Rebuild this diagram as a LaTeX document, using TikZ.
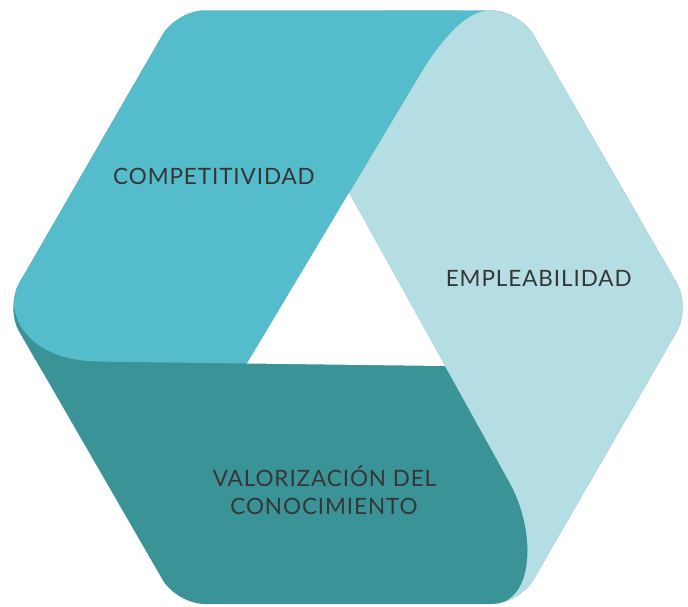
\documentclass[tikz,border=0pt]{standalone}
\usepackage{fontspec}
\setmainfont{Lato}[LetterSpace=4]
\definecolor{cyanrib}{HTML}{54BCCA}
\definecolor{palerib}{HTML}{B5DEE4}
\definecolor{darkrib}{HTML}{3A9396}
\definecolor{txt}{HTML}{363636}
\begin{document}
\begin{tikzpicture}[x=1pt,y=-1pt,
  lbl/.style={text=txt, font=\fontsize{22.5}{28}\selectfont, inner sep=0pt, anchor=base}]
\useasboundingbox (0,0) rectangle (688,606);
% inner triangle
\coordinate (A) at (349,193);
\coordinate (BL) at (247,363.5);
\coordinate (BR) at (445,366);
% extended sides
\coordinate (LaT) at (482.4,-30);
\coordinate (LbB) at (597,640);
\coordinate (LcL) at (-50,359.7);
% outer hexagon
\coordinate (H1) at (5.3,307.25);
\coordinate (H2) at (176.6,10.5);
\coordinate (H3) at (519.4,10.5);
\coordinate (H4) at (690.7,307.25);
\coordinate (H5) at (519.4,604);
\coordinate (H6) at (176.6,604);
\coordinate (HT) at (348,10.5);
\begin{scope}
  \clip[rounded corners=28pt] (HT) -- (H3) -- (H4) -- (H5) -- (H6) -- (H1) -- (H2) -- cycle;
  \fill[darkrib] (-50,-50) rectangle (740,660);
  \fill[palerib] (A) -- (LaT) -- (740,-30) -- (740,640) -- (LbB) -- (BR) -- cycle;
  \fill[cyanrib] (LcL) -- (BL) -- (A) -- (LaT) -- (-50,-30) -- cycle;
  % flaps
  \fill[darkrib] (100,361.6) .. controls (45,361.2) and (14,335) .. (13,298) -- (-50,298) -- (-50,370) -- (100,370) -- cycle;
  \fill[cyanrib] (396.5,113) .. controls (422,70) and (455,10.5) .. (490,10.5) -- (490,-30) -- (380,-30) -- cycle;
  \fill[palerib] (509.4,482) .. controls (536,530) and (535,600) .. (495,604) -- (495,640) -- (650,640) -- (650,482) -- cycle;
  \fill[white] (A) -- (BL) -- (BR) -- cycle;
\end{scope}
\node[lbl] (comp) at (214,184) {COMPETITIVIDAD};
\node[lbl] (empl) at (538.7,286.7) {EMPLEABILIDAD};
\node[lbl] (val1) at (324.5,486) {VALORIZACIÓN DEL};
\node[lbl] (val2) at (324,514.3) {CONOCIMIENTO};
\end{tikzpicture}
\end{document}
